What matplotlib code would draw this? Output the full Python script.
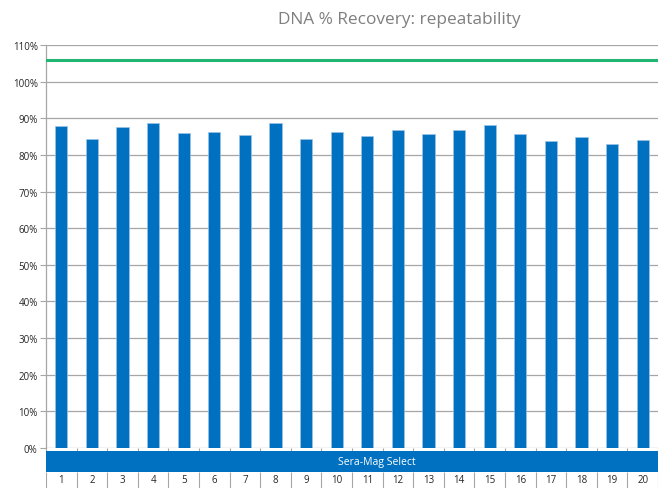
import numpy as np
import matplotlib.pyplot as plt

plt.rcParams['font.family'] = ['Open Sans', 'DejaVu Sans']

runs = [str(i) for i in range(1, 21)]
recovery = [87.9, 84.3, 87.5, 88.8, 85.9, 86.2, 85.3, 88.6, 84.4, 86.2,
            85.2, 86.7, 85.7, 86.8, 88.1, 85.6, 83.8, 84.8, 83.0, 84.1]
target_line = 106.0
group_name = 'Sera-Mag Select'
yticks = list(range(0, 111, 10))

W, H = 658, 489
fig = plt.figure(figsize=(W / 100, H / 100), dpi=100)

# main plot area in pixel coords
left, right, top, bottom = 46, 658, 46, 449
ax = fig.add_axes([left / W, (H - bottom) / H, (right - left) / W, (bottom - top) / H])

x = np.arange(len(runs))
ax.bar(x, recovery, width=0.4, color='#0070c0', edgecolor='#9dc3e6', linewidth=0.5, zorder=3)
ax.axhline(target_line, color='#21b573', linewidth=2.2, zorder=4)

ax.set_xlim(-0.5, len(runs) - 0.5)
ax.set_ylim(0, 110)
ax.set_yticks(yticks)
ax.set_yticklabels([f'{v}%' for v in yticks], fontsize=7, color='#262626')
ax.yaxis.grid(True, color='#a6a6a6', linewidth=0.9, zorder=0)
ax.set_xticks([])
ax.set_xticks(np.arange(-0.5, len(runs)), minor=True)
ax.tick_params(axis='x', which='minor', length=3, color='#a6a6a6', width=0.8)
ax.tick_params(axis='y', length=4, color='#a6a6a6', width=0.8, pad=2)
for s in ['top', 'right', 'bottom']:
    ax.spines[s].set_visible(False)
ax.spines['left'].set_color('#a6a6a6')
ax.spines['left'].set_linewidth(0.9)

# category band below the axis
band = fig.add_axes([left / W, 0, (right - left) / W, (H - 452) / H])
band.set_xlim(ax.get_xlim())
band.set_ylim(0, H - 452)
band.axis('off')
band.axhspan(H - 473, H - 452, color='#0070c0', linewidth=0)
band.vlines(np.arange(-0.5, len(runs)), 0, H - 473, color='#a6a6a6', linewidth=0.8)
for xi, lab in zip(x, runs):
    band.text(xi, (H - 473) / 2, lab, ha='center', va='center', fontsize=7, color='#262626')
band.text(376.5 / W, (H - 462.5) / H, group_name, transform=fig.transFigure,
          ha='center', va='center', fontsize=7.5, color='white')

fig.text(399 / W, (H - 20) / H, 'DNA % Recovery: repeatability', ha='center', va='center',
         fontsize=12.4, color='#7f7f7f')

fig.savefig('out.png', dpi=100)
